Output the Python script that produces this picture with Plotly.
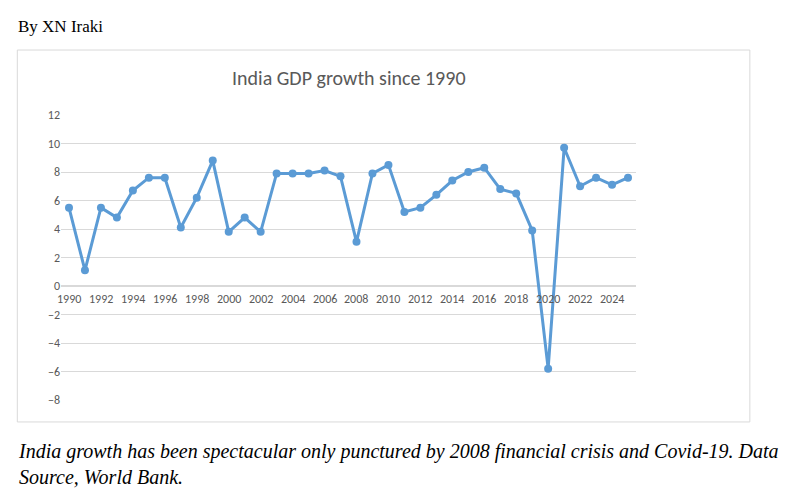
import plotly.graph_objects as go

years = list(range(1990, 2026))
growth = [5.5, 1.1, 5.5, 4.8, 6.7, 7.6, 7.6, 4.1, 6.2, 8.8, 3.8, 4.8, 3.8, 7.9, 7.9, 7.9,
          8.1, 7.7, 3.1, 7.9, 8.5, 5.2, 5.5, 6.4, 7.4, 8.0, 8.3, 6.8, 6.5, 3.9,
          -5.8, 9.7, 7.0, 7.6, 7.1, 7.6]
tick_years = years[::2]

fig = go.Figure(go.Scatter(
    x=years, y=growth, mode="lines+markers",
    line=dict(color="#5B9BD5", width=3),
    marker=dict(color="#5B9BD5", size=8),
))

# x labels sit on the zero line, as in the Excel chart
for yr in tick_years:
    fig.add_annotation(x=yr, y=0, text=str(yr), showarrow=False, yshift=-13,
                       font=dict(size=12, color="#595959", family="Calibri, Carlito, Liberation Sans"))

fig.add_shape(type="rect", xref="paper", yref="paper", x0=-0.076, x1=1.198, y0=-0.077, y1=1.228,
              line=dict(color="#D9D9D9", width=1))
fig.add_annotation(xref="paper", yref="paper", x=0.5, y=1.18, text="India GDP growth since 1990",
                   showarrow=False, font=dict(size=20, color="#595959", family="Calibri, Carlito, Liberation Sans"))
fig.add_annotation(xref="paper", yref="paper", x=-0.079, y=1.31, xanchor="left", yanchor="middle",
                   text="By XN Iraki", showarrow=False,
                   font=dict(size=17, color="black", family="Liberation Serif"))
fig.add_annotation(xref="paper", yref="paper", x=-0.079, y=-0.135, xanchor="left", yanchor="top",
                   align="left", showarrow=False,
                   text="<i>India growth has been spectacular only punctured by 2008 financial crisis and Covid-19. Data<br>Source, World Bank.</i>",
                   font=dict(size=20, color="black", family="Liberation Serif"))

fig.update_layout(
    width=800, height=500, showlegend=False,
    paper_bgcolor="white", plot_bgcolor="white",
    margin=dict(l=53, r=172, t=107, b=108),
    xaxis=dict(range=[1989.5, 2025.5], showticklabels=False, showgrid=False, zeroline=False),
    yaxis=dict(range=[-8, 12], dtick=2, gridcolor="#D9D9D9", zeroline=True, zerolinecolor="#D9D9D9",
               tickfont=dict(size=12, color="#595959", family="Calibri, Carlito, Liberation Sans")),
)

fig.write_html("out.html")
